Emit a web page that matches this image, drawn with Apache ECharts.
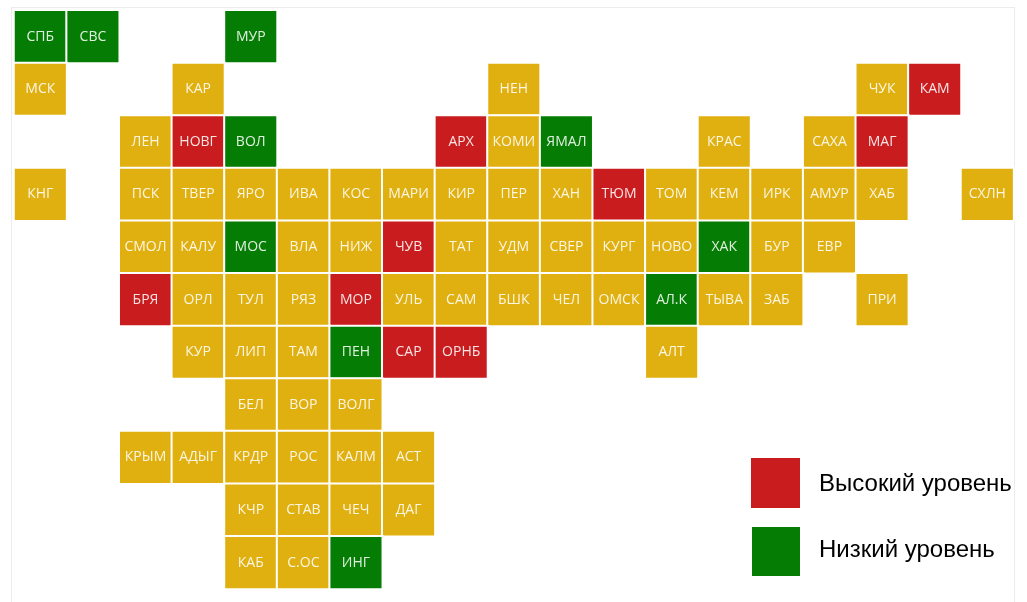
<!DOCTYPE html>
<html>
<head>
<meta charset="utf-8">
<style>
html,body{margin:0;padding:0;background:#fff;}
#frame{position:absolute;left:11px;top:7px;width:1002px;height:594px;border:1px solid #ececec;border-bottom:none;box-sizing:content-box;}
#tilemap{position:absolute;left:0;top:0;width:1027px;height:602px;}
</style>
</head>
<body>
<div id="frame"></div>
<div id="tilemap"></div>
<script src="https://cdn.jsdelivr.net/npm/echarts@6/dist/echarts.min.js"></script>
<script>
var columns = ['0','1','2','3','4','5','6','7','8','9','10','11','12','13','14','15','16','17','18'];
var rows = ['0','1','2','3','4','5','6','7','8','9','10'];

// tile map, one line per row, '' = empty cell
var row0 = ['СПБ','СВС','','','МУР','','','','','','','','','','','','','',''];
var row1 = ['МСК','','','КАР','','','','','','НЕН','','','','','','','ЧУК','КАМ',''];
var row2 = ['','','ЛЕН','НОВГ','ВОЛ','','','','АРХ','КОМИ','ЯМАЛ','','','КРАС','','САХА','МАГ','',''];
var row3 = ['КНГ','','ПСК','ТВЕР','ЯРО','ИВА','КОС','МАРИ','КИР','ПЕР','ХАН','ТЮМ','ТОМ','КЕМ','ИРК','АМУР','ХАБ','','СХЛН'];
var row4 = ['','','СМОЛ','КАЛУ','МОС','ВЛА','НИЖ','ЧУВ','ТАТ','УДМ','СВЕР','КУРГ','НОВО','ХАК','БУР','ЕВР','','',''];
var row5 = ['','','БРЯ','ОРЛ','ТУЛ','РЯЗ','МОР','УЛЬ','САМ','БШК','ЧЕЛ','ОМСК','АЛ.К','ТЫВА','ЗАБ','','ПРИ','',''];
var row6 = ['','','','КУР','ЛИП','ТАМ','ПЕН','САР','ОРНБ','','','','АЛТ','','','','','',''];
var row7 = ['','','','','БЕЛ','ВОР','ВОЛГ','','','','','','','','','','','',''];
var row8 = ['','','КРЫМ','АДЫГ','КРДР','РОС','КАЛМ','АСТ','','','','','','','','','','',''];
var row9 = ['','','','','КЧР','СТАВ','ЧЕЧ','ДАГ','','','','','','','','','','',''];
var row10 = ['','','','','КАБ','С.ОС','ИНГ','','','','','','','','','','','',''];
var tileRows = [row0,row1,row2,row3,row4,row5,row6,row7,row8,row9,row10];

var highRegions = ['КАМ','НОВГ','АРХ','МАГ','ТЮМ','ЧУВ','БРЯ','МОР','САР','ОРНБ'];
var lowRegions = ['СПБ','СВС','МУР','ВОЛ','ЯМАЛ','МОС','ХАК','АЛ.К','ПЕН','ИНГ'];

var legendHigh = 'Высокий уровень';
var legendLow = 'Низкий уровень';

var RED = '#c91c1e', GREEN = '#057d05', YELLOW = '#e0b010';

var tiles = [];
tileRows.forEach(function (line, r) {
    line.forEach(function (name, c) {
        if (!name) return;
        var level = highRegions.indexOf(name) >= 0 ? 2 : (lowRegions.indexOf(name) >= 0 ? 0 : 1);
        tiles.push({ value: [c, r, level], name: name });
    });
});

var myChart = echarts.init(document.getElementById('tilemap'));
myChart.setOption({
    animation: false,
    grid: { left: 14, top: 10.3, width: 999.6, height: 578.6 },
    xAxis: { type: 'category', data: columns, show: false },
    yAxis: { type: 'category', data: rows, inverse: true, show: false },
    visualMap: {
        show: false,
        type: 'piecewise',
        dimension: 2,
        pieces: [
            { value: 0, color: GREEN },
            { value: 1, color: YELLOW },
            { value: 2, color: RED }
        ]
    },
    series: [{
        type: 'heatmap',
        data: tiles,
        itemStyle: { borderColor: '#fff', borderWidth: 2 },
        label: {
            show: true,
            formatter: '{b}',
            color: 'rgba(255,255,255,0.88)',
            fontFamily: 'Open Sans',
            fontSize: 14
        }
    }],
    graphic: [
        { type: 'rect', left: 751, top: 458, shape: { width: 49, height: 50 }, style: { fill: RED } },
        { type: 'rect', left: 752, top: 527, shape: { width: 48, height: 49 }, style: { fill: GREEN } },
        { type: 'text', left: 819, top: 472, style: { text: legendHigh, fill: '#000', font: '24px "Liberation Sans"' } },
        { type: 'text', left: 819, top: 538, style: { text: legendLow, fill: '#000', font: '24px "Liberation Sans"' } }
    ]
});
</script>
</body>
</html>
